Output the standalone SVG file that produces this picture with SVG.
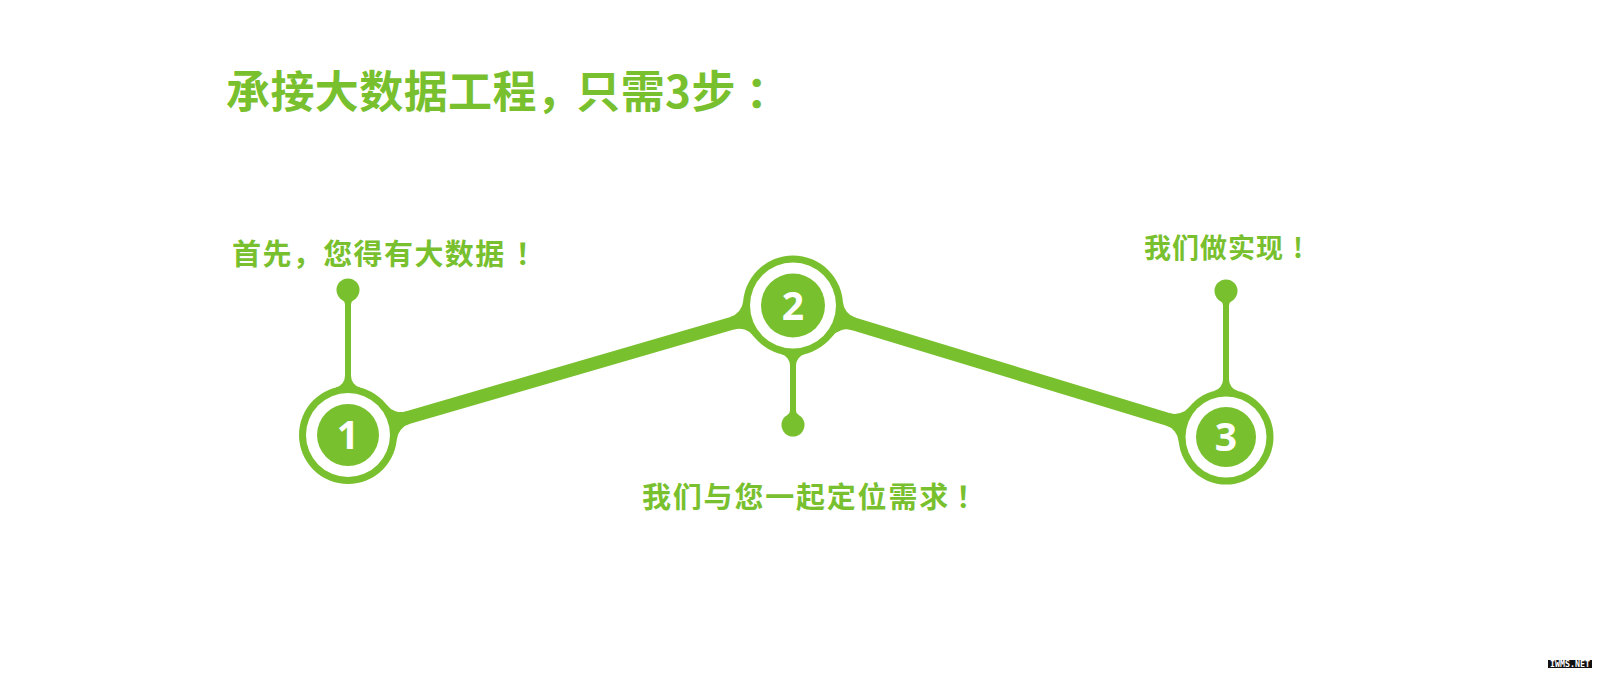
<svg xmlns="http://www.w3.org/2000/svg" width="1600" height="677" viewBox="0 0 1600 677">
<style>
.g{fill:#79c02e}
.w{fill:#ffffff}
.band{stroke:#79c02e;stroke-width:13;fill:none}
.stem{stroke:#79c02e;stroke-width:6;fill:none}
.t{font-family:"Noto Sans CJK SC","Noto Sans",sans-serif;font-weight:700;fill:#79c02e}
.num{font-family:"Open Sans","Noto Sans",sans-serif;font-weight:700;fill:#ffffff;font-size:39px;text-anchor:middle}
</style>
<defs>
<path id="lf49" d="M62.36,6.5 A18,18 0 0 0 45.61,17.92 L0,0 L45.61,-17.92 A18,18 0 0 0 62.36,-6.5 Z"/>
<path id="lf50" d="M63.43,6.5 A18,18 0 0 0 46.64,18.01 L0,0 L46.64,-18.01 A18,18 0 0 0 63.43,-6.5 Z"/>
<path id="lf47" d="M60.75,6.5 A18,18 0 0 0 44.06,17.77 L0,0 L44.06,-17.77 A18,18 0 0 0 60.75,-6.5 Z"/>
<path id="sf49" d="M59.13,3 A12,12 0 0 0 47.50,12.05 L0,0 L47.50,-12.05 A12,12 0 0 0 59.13,-3 Z"/>
<path id="sf50" d="M60.16,3 A12,12 0 0 0 48.52,12.10 L0,0 L48.52,-12.10 A12,12 0 0 0 60.16,-3 Z"/>
<path id="sf47" d="M57.58,3 A12,12 0 0 0 45.97,11.97 L0,0 L45.97,-11.97 A12,12 0 0 0 57.58,-3 Z"/>
<path id="df" d="M14.43,3 A5,5 0 0 0 10.06,5.58 L0,0 L10.06,-5.58 A5,5 0 0 0 14.43,-3 Z"/>
</defs>
<rect width="1600" height="677" fill="#ffffff"/>

<text class="t" x="226" y="107.5" font-size="44" letter-spacing="0.4" dx="0 0 0 0 0 0 0 0 -5 0 0 0 10">承接大数据工程，只需3步：</text>

<g id="connectors">
<line class="band" x1="348" y1="435" x2="793" y2="305.5"/>
<line class="band" x1="793" y1="305.5" x2="1226" y2="437"/>
<use href="#lf49" class="g" transform="translate(348,435) rotate(-16.18)"/>
<use href="#lf50" class="g" transform="translate(793,305.5) rotate(163.82)"/>
<use href="#lf50" class="g" transform="translate(793,305.5) rotate(16.88)"/>
<use href="#lf47" class="g" transform="translate(1226,437) rotate(196.88)"/>
</g>

<g id="node1">
<line class="stem" x1="348" y1="290" x2="348" y2="435"/>
<use href="#sf49" class="g" transform="translate(348,435) rotate(-90)"/>
<use href="#df" class="g" transform="translate(348,290) rotate(90)"/>
<circle class="g" cx="348" cy="290" r="11.5"/>
<circle class="g" cx="348" cy="435" r="49"/>
<circle class="w" cx="348" cy="435" r="42"/>
<circle class="g" cx="348" cy="435" r="31"/>
<text class="num" x="348" y="449">1</text>
<text class="t" x="232" y="264.5" font-size="29" letter-spacing="1.4">首先，您得有大数据<tspan dx="10">！</tspan></text>
</g>

<g id="node2">
<line class="stem" x1="793" y1="305.5" x2="793" y2="425"/>
<use href="#sf50" class="g" transform="translate(793,305.5) rotate(90)"/>
<use href="#df" class="g" transform="translate(793,425) rotate(-90)"/>
<circle class="g" cx="793" cy="425" r="11.5"/>
<circle class="g" cx="793" cy="305.5" r="50"/>
<circle class="w" cx="793" cy="305.5" r="43"/>
<circle class="g" cx="793" cy="305.5" r="32"/>
<text class="num" x="793" y="319.5">2</text>
<text class="t" x="642" y="508" font-size="29" letter-spacing="1.8">我们与您一起定位需求<tspan dx="6">！</tspan></text>
</g>

<g id="node3">
<line class="stem" x1="1226" y1="291" x2="1226" y2="437"/>
<use href="#sf47" class="g" transform="translate(1226,437) rotate(-90)"/>
<use href="#df" class="g" transform="translate(1226,291) rotate(90)"/>
<circle class="g" cx="1226" cy="291" r="11.5"/>
<circle class="g" cx="1226" cy="437" r="47.5"/>
<circle class="w" cx="1226" cy="437" r="40.5"/>
<circle class="g" cx="1226" cy="437" r="30"/>
<text class="num" x="1226" y="451">3</text>
<text class="t" x="1144" y="258" font-size="27" letter-spacing="1">我们做实现<tspan dx="9">!</tspan></text>
</g>

<g id="watermark">
<rect x="1548" y="660" width="44" height="8" fill="#111111"/>
<text x="1570" y="667" font-family="'DejaVu Sans Mono',monospace" font-size="8" font-weight="700" fill="#ffffff" text-anchor="middle" textLength="40" lengthAdjust="spacingAndGlyphs">IWMS.NET</text>
</g>
</svg>
